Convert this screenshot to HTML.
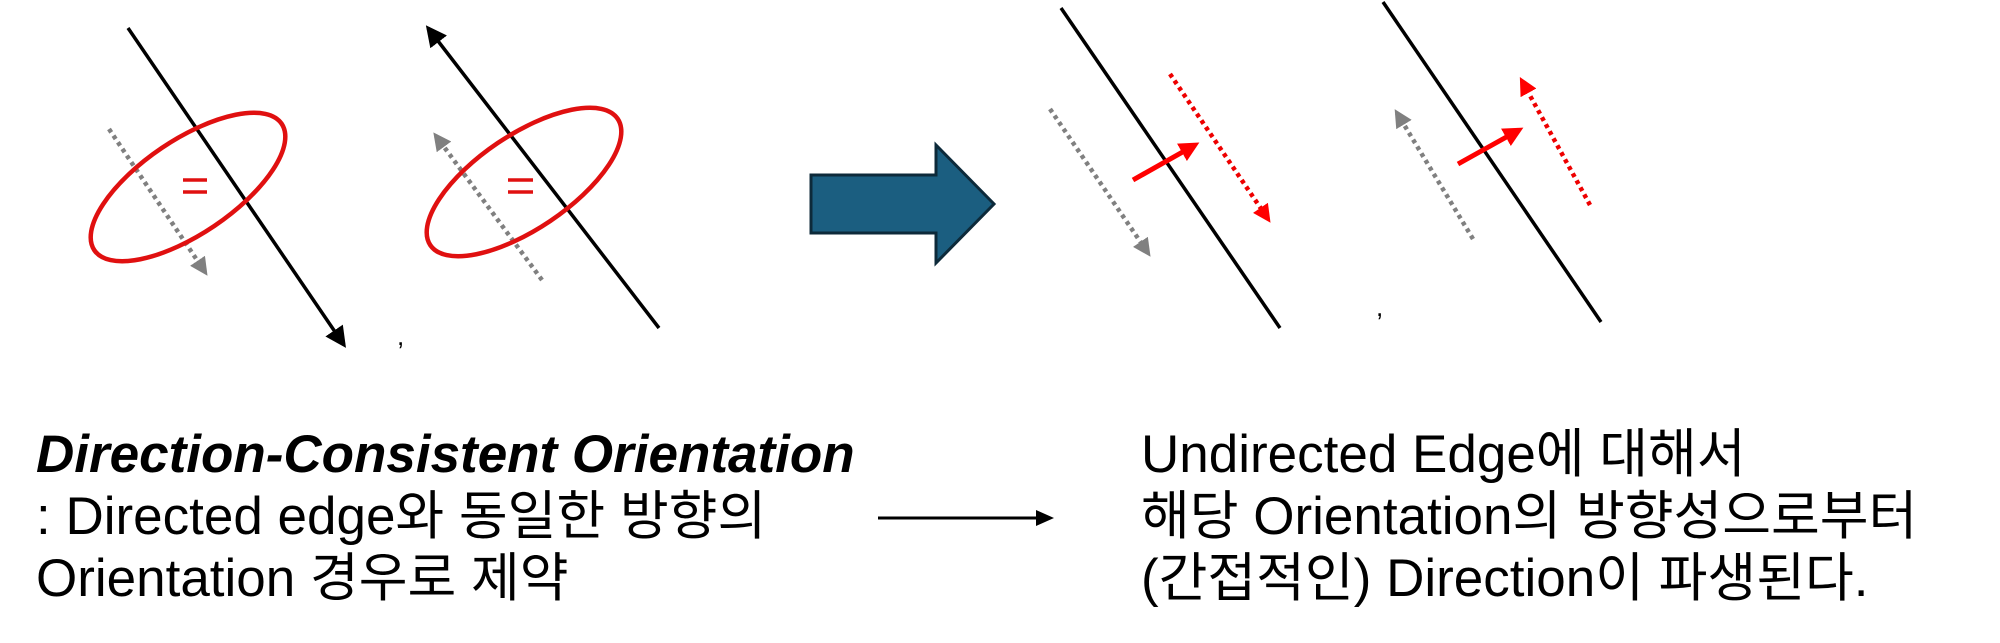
<!DOCTYPE html>
<html><head><meta charset="utf-8"><style>
html,body{margin:0;padding:0;background:#fff;}
body{width:2000px;height:643px;position:relative;overflow:hidden;font-family:"Liberation Sans","Noto Sans CJK KR",sans-serif;}
.t{position:absolute;font-size:53px;line-height:62px;color:#000;white-space:nowrap;}
</style></head><body>
<svg width="2000" height="643" style="position:absolute;left:0;top:0">
<defs>
<marker id="ab" markerWidth="6" markerHeight="6" refX="5" refY="3" orient="auto" markerUnits="strokeWidth"><path d="M0,0 L6,3 L0,6 z" fill="#000"/></marker>
<marker id="ag" markerWidth="4" markerHeight="4" refX="3" refY="2" orient="auto" markerUnits="strokeWidth"><path d="M0,0 L4,2 L0,4 z" fill="#808080"/></marker>
<marker id="ar" markerWidth="4" markerHeight="4" refX="3" refY="2" orient="auto" markerUnits="strokeWidth"><path d="M0,0 L4,2 L0,4 z" fill="#f00"/></marker>
</defs>
<g stroke-width="3.5" fill="none">
<line x1="128" y1="28" x2="344" y2="345" stroke="#000" marker-end="url(#ab)"/>
<line x1="659" y1="328" x2="428" y2="28" stroke="#000" marker-end="url(#ab)"/>
<line x1="1061" y1="8" x2="1280" y2="328" stroke="#000"/>
<line x1="1383" y1="2" x2="1601" y2="322" stroke="#000"/>
</g>
<g stroke-width="4.5" fill="none" stroke-dasharray="4,4">
<line x1="109" y1="129" x2="205" y2="272" stroke="#808080" marker-end="url(#ag)"/>
<line x1="542" y1="280" x2="436" y2="136" stroke="#808080" marker-end="url(#ag)"/>
<line x1="1050" y1="109" x2="1148" y2="253" stroke="#808080" marker-end="url(#ag)"/>
<line x1="1473" y1="239" x2="1397" y2="113" stroke="#808080" marker-end="url(#ag)"/>
<line x1="1170" y1="74" x2="1268" y2="219" stroke="#e00" marker-end="url(#ar)"/>
<line x1="1590" y1="205" x2="1522" y2="81" stroke="#e00" marker-end="url(#ar)"/>
</g>
<g stroke="#f00" stroke-width="5" fill="none">
<line x1="1133" y1="180" x2="1195" y2="145" marker-end="url(#ar)"/>
<line x1="1458" y1="164" x2="1519" y2="130" marker-end="url(#ar)"/>
</g>
<ellipse cx="188" cy="187" rx="113" ry="47" transform="rotate(-34 188 187)" stroke="#e01010" stroke-width="4.5" fill="none"/>
<ellipse cx="524" cy="182" rx="113" ry="47" transform="rotate(-34 524 182)" stroke="#e01010" stroke-width="4.5" fill="none"/>
<g stroke="#e01010" stroke-width="3.5">
<line x1="183" y1="180" x2="207" y2="180"/><line x1="183" y1="192" x2="207" y2="192"/>
<line x1="508" y1="180" x2="533" y2="180"/><line x1="508" y1="192" x2="533" y2="192"/>
</g>
<text x="397" y="345" font-size="26" font-family="Liberation Sans">,</text>
<text x="1376" y="316" font-size="26" font-family="Liberation Sans">,</text>
<path d="M811,175 L936,175 L936,145 L994,204 L936,263 L936,233 L811,233 Z" fill="#1b5e80" stroke="#0d2a3a" stroke-width="3"/>
<line x1="878" y1="518" x2="1040" y2="518" stroke="#000" stroke-width="3"/>
<path d="M1054,518 L1036,510 L1036,526 Z" fill="#000"/>
</svg>
<div class="t" style="left:36px;top:424px"><b><i>Direction-Consistent Orientation</i></b><br>: Directed edge와 동일한 방향의<br>Orientation 경우로 제약</div>
<div class="t" style="left:1141px;top:424px">Undirected Edge에 대해서<br>해당 Orientation의 방향성으로부터<br>(간접적인) Direction이 파생된다.</div>
</body></html>
